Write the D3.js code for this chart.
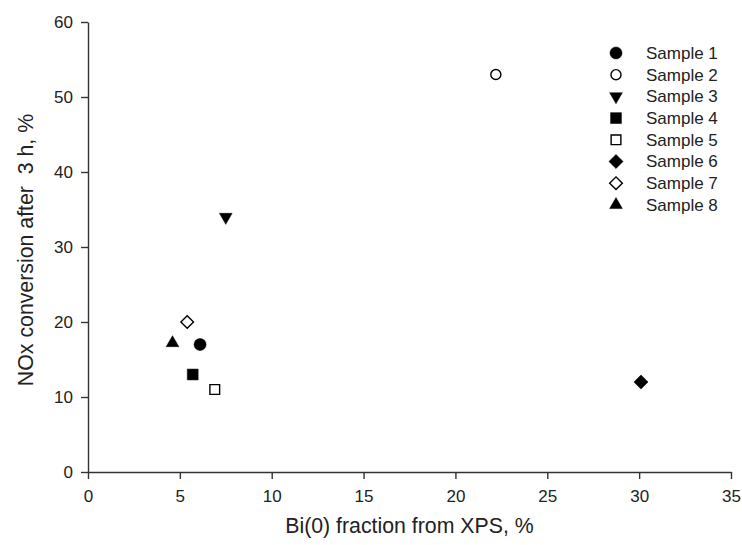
<!DOCTYPE html>
<html>
<head>
<meta charset="utf-8">
<script src="https://cdn.jsdelivr.net/npm/d3@7"></script>
<style>
  body { margin: 0; background: #fff; }
  text { font-family: Arial, "Liberation Sans", sans-serif; fill: #222; }
</style>
</head>
<body>
<div id="chart"></div>
<script>
// data
const samples = ["Sample 1", "Sample 2", "Sample 3", "Sample 4", "Sample 5", "Sample 6", "Sample 7", "Sample 8"];
const bi0Fraction = [6.1, 22.2, 7.5, 5.7, 6.9, 30.1, 5.4, 4.6];
const noxConversion = [17, 53, 34, 13, 11, 12, 20, 17.2];
const xTicks = [0, 5, 10, 15, 20, 25, 30, 35];
const yTicks = [0, 10, 20, 30, 40, 50, 60];

// marker styling, one per sample
const shapes = ["circle", "circle", "triDown", "square", "square", "diamond", "diamond", "triUp"];
const filled = [true, false, true, true, false, true, false, true];

const margin = ({top: 22, right: 11, bottom: 73, left: 88});
const width = 742 - margin.left - margin.right;
const height = 545 - margin.top - margin.bottom;

var svg = d3.select("#chart")
    .append("svg")
    .attr("width", 742)
    .attr("height", 545);

var g = svg.append("g")
    .attr("transform", "translate(" + margin.left + "," + margin.top + ")");

var xScale = d3.scaleLinear().domain([0, 35]).range([0, width]);
var yScale = d3.scaleLinear().domain([0, 60]).range([height, 0]);

var xAxis = d3.axisBottom(xScale).tickValues(xTicks).tickSize(7).tickSizeOuter(0).tickPadding(11);
var yAxis = d3.axisLeft(yScale).tickValues(yTicks).tickSize(7).tickSizeOuter(0).tickPadding(8);

function styleAxis(sel) {
    sel.selectAll("path, line").attr("stroke", "#333").attr("stroke-width", 1.4);
    sel.selectAll("text").attr("font-size", 17).attr("fill", "#222");
}

g.append("g")
    .attr("transform", `translate(0, ${height})`)
    .call(xAxis)
    .call(styleAxis);

g.append("g")
    .call(yAxis)
    .call(styleAxis);

// axis titles
g.append("text")
    .attr("x", width / 2)
    .attr("y", height + 61)
    .attr("text-anchor", "middle")
    .attr("font-size", 21.3)
    .text("Bi(0) fraction from XPS, %");

g.append("text")
    .attr("transform", `translate(${-55}, ${height / 2 + 3}) rotate(-90)`)
    .attr("text-anchor", "middle")
    .attr("font-size", 21.3)
    .style("white-space", "pre")
    .text("NOx conversion after  3 h, %");

function markerPath(shape, isFilled) {
    if (shape == "circle") return d3.symbol(d3.symbolCircle, isFilled ? 115 : 80)();
    if (shape == "square") return d3.symbol(d3.symbolSquare, isFilled ? 118 : 95)();
    if (shape == "diamond") return d3.symbol(d3.symbolSquare, isFilled ? 100 : 80)();
    return d3.symbol(d3.symbolTriangle, 70)();
}
function markerRotate(shape) {
    if (shape == "diamond") return 45;
    if (shape == "triDown") return 180;
    return 0;
}

function drawMarker(sel, i) {
    sel.attr("d", markerPath(shapes[i], filled[i]))
        .attr("fill", filled[i] ? "#000" : "#fff")
        .attr("stroke", "#000")
        .attr("stroke-width", filled[i] ? 0.5 : 1.4);
}

samples.forEach(function(name, i) {
    g.append("path")
        .attr("transform", `translate(${xScale(bi0Fraction[i])}, ${yScale(noxConversion[i])}) rotate(${markerRotate(shapes[i])})`)
        .call(drawMarker, i);
});

// legend
var legend = svg.append("g").attr("transform", "translate(616, 53)");
samples.forEach(function(name, i) {
    var row = legend.append("g").attr("transform", `translate(0, ${i * 21.7})`);
    row.append("path")
        .attr("transform", `rotate(${markerRotate(shapes[i])})`)
        .call(drawMarker, i);
    row.append("text")
        .attr("x", 30)
        .attr("dy", "0.35em")
        .attr("font-size", 17)
        .text(name);
});
</script>
</body>
</html>
